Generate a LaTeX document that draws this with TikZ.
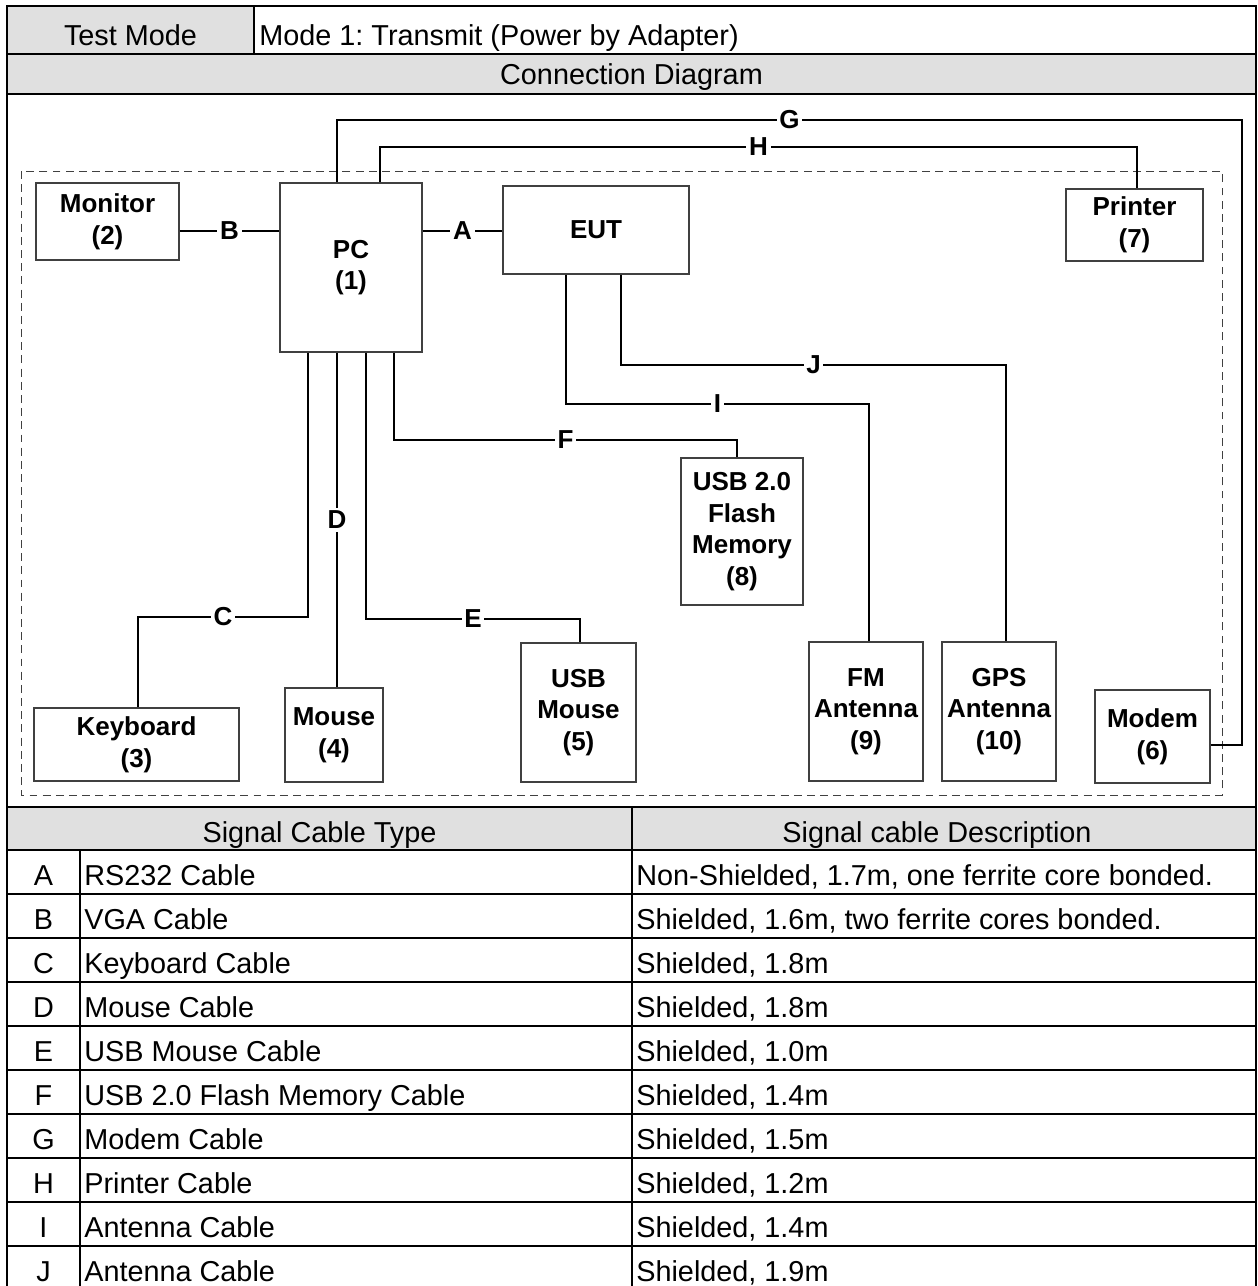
\documentclass[tikz,border=0pt]{standalone}
\usepackage{fontspec}
\setmainfont{Liberation Sans}
\frenchspacing
\definecolor{cellgray}{HTML}{E0E0E0}
\definecolor{boxline}{HTML}{404040}
\newcommand{\bodyfont}{\fontsize{16.4}{19}\selectfont}
\newcommand{\diagfont}{\fontsize{14.8}{18}\selectfont\bfseries}
\tikzset{
  unit/.style 2 args={draw=boxline, line width=0.6pt, align=center, font=\diagfont,
    inner sep=0pt, minimum width=#1*0.02cm, minimum height=#2*0.02cm},
  cable/.style={line width=0.8pt},
  lbl/.style={fill=white, inner sep=1.5pt, font=\diagfont},
  grid/.style={line width=1.1pt},
  cell/.style={font=\bodyfont, inner sep=0pt},
}

\begin{document}
\begin{tikzpicture}[x=0.02cm, y=-0.02cm]
    \useasboundingbox (0,0) rectangle (1258,1286);
    % frame and table rules
    \fill[cellgray] (7,6) rectangle (254,54);
    \fill[cellgray] (7,54) rectangle (1256,94);
    \fill[cellgray] (7,807) rectangle (1256,850);
    \draw[grid] (7,6) rectangle (1256,1290);
    \draw[grid] (254,6) -- (254,54);
    \draw[grid] (7,54) -- (1256,54);
    \draw[grid] (7,94) -- (1256,94);
    \draw[grid] (7,807) -- (1256,807);
    \draw[grid] (632,807) -- (632,1290);
    \draw[grid] (80,850) -- (80,1290);
    \foreach \k in {0,...,9}
        \draw[grid] (7,850+44*\k) -- (1256,850+44*\k);

    \node[cell, anchor=base] (testmode) at (130.5,45) {Test Mode};
    \node[cell, anchor=base west] (mode) at (259,45) {Mode 1: Transmit (Power by Adapter)};
    \node[cell, anchor=base] (conn) at (631.5,84) {Connection Diagram};
    \node[cell, anchor=base] (typehead) at (319.5,842) {Signal Cable Type};
    \node[cell, anchor=base] (deschead) at (937,842) {Signal cable Description};
    \foreach \l/\t/\d [count=\i from 0] in {
        {A/RS232 Cable/Non-Shielded, 1.7m, one ferrite core bonded.},
        {B/VGA Cable/Shielded, 1.6m, two ferrite cores bonded.},
        {C/Keyboard Cable/Shielded, 1.8m},
        {D/Mouse Cable/Shielded, 1.8m},
        {E/USB Mouse Cable/Shielded, 1.0m},
        {F/USB 2.0 Flash Memory Cable/Shielded, 1.4m},
        {G/Modem Cable/Shielded, 1.5m},
        {H/Printer Cable/Shielded, 1.2m},
        {I/Antenna Cable/Shielded, 1.4m},
        {J/Antenna Cable/Shielded, 1.9m}}{
        \node[cell, anchor=base] (ltr\l) at (43.5,885+44*\i) {\l};
        \node[cell, anchor=base west] (type\l) at (84,885+44*\i) {\t};
        \node[cell, anchor=base west] (desc\l) at (636,885+44*\i) {\d};
    }

    % test set-up
    \draw[boxline, line width=0.5pt, dash pattern=on 4.5pt off 3pt] (21,171) rectangle (1222,795);
    \node[unit={143}{77}] (monitor) at (107.5,221.5) {Monitor\\(2)};
    \node[unit={142}{169}] (pc) at (351,267.5) {PC\\(1)};
    \node[unit={186}{88}] (eut) at (596,230) {EUT};
    \node[unit={137}{72}] (printer) at (1134.5,225) {Printer\\(7)};
    \node[unit={205}{73}] (keyboard) at (136.5,744.5) {Keyboard\\(3)};
    \node[unit={98}{94}] (mouse) at (334,735) {Mouse\\(4)};
    \node[unit={115}{139}] (usbmouse) at (578.5,712.5) {USB\\Mouse\\(5)};
    \node[unit={122}{147}] (flash) at (742,531.5) {USB 2.0\\Flash\\Memory\\(8)};
    \node[unit={114}{139}] (fmant) at (866,711.5) {FM\\Antenna\\(9)};
    \node[unit={114}{139}] (gpsant) at (999,711.5) {GPS\\Antenna\\(10)};
    \node[unit={115}{93}] (modem) at (1152.5,736.5) {Modem\\(6)};

    % cables
    \draw[cable] (pc.east |- 0,231) -- node[lbl] (cabA) {A} (eut.west |- 0,231);
    \draw[cable] (monitor.east |- 0,231) -- node[lbl] (cabB) {B} (pc.west |- 0,231);
    \draw[cable] (pc.south -| 308,0) -- (308,617) -- node[lbl] (cabC) {C} (138,617)
        -- (keyboard.north -| 138,0);
    \draw[cable] (pc.south -| 337,0) -- node[lbl] (cabD) {D} (mouse.north -| 337,0);
    \draw[cable] (pc.south -| 366,0) -- (366,619) -- node[lbl] (cabE) {E} (580,619)
        -- (usbmouse.north -| 580,0);
    \draw[cable] (pc.south -| 394,0) -- (394,440) -- node[lbl] (cabF) {F} (737,440)
        -- (flash.north -| 737,0);
    \draw[cable] (pc.north -| 337,0) -- (337,120) -- node[lbl] (cabG) {G} (1242,120)
        |- (modem.east |- 0,745);
    \draw[cable] (pc.north -| 380,0) -- (380,147) -- node[lbl] (cabH) {H} (1137,147)
        -- (printer.north -| 1137,0);
    \draw[cable] (eut.south -| 566,0) -- (566,404) -- node[lbl] (cabI) {I} (869,404)
        -- (fmant.north -| 869,0);
    \draw[cable] (eut.south -| 621,0) -- (621,365) -- node[lbl] (cabJ) {J} (1006,365)
        -- (gpsant.north -| 1006,0);
\end{tikzpicture}
\end{document}
